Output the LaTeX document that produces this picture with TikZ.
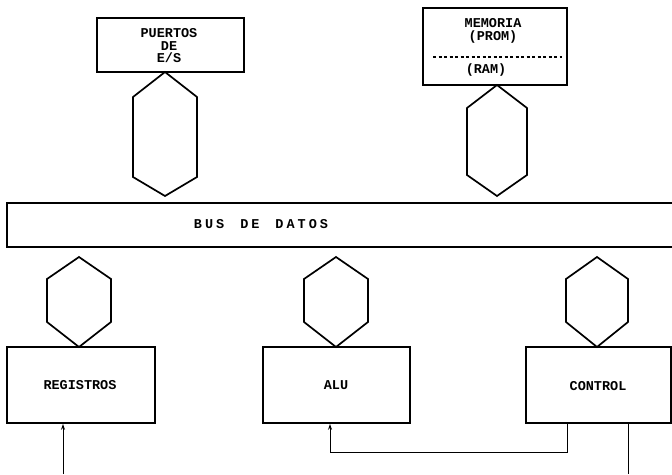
\documentclass[tikz,border=0pt]{standalone}
\usepackage{fontspec}
\setmonofont{Liberation Mono}
\usetikzlibrary{arrows.meta}
\begin{document}
\begin{tikzpicture}[x=1pt,y=-1pt,
  blk/.style={draw,line width=1.6pt,rectangle,inner sep=0pt},
  lbl/.style={font=\ttfamily\bfseries\fontsize{13.5}{12.5}\selectfont,align=center,inner sep=0pt},
  hexa/.style={draw,line width=1.7pt,line join=miter},
  wire/.style={line width=1pt},
  tip/.style={-{Stealth[length=6pt,width=4pt]}}]
\useasboundingbox (0,0) rectangle (672,474);

% units and peripheral blocks
\node[blk,minimum width=147pt,minimum height=54pt] (puertos) at (170.5,45) {};
\node[lbl] (puertosT) at (169,46) {PUERTOS\\DE\\E/S};

\node[blk,minimum width=144pt,minimum height=77pt] (memoria) at (495,46.5) {};
\node[lbl] (memoriaT) at (493,31) {MEMORIA\\(PROM)};
\node[lbl] (ramT) at (486,70) {(RAM)};
\coordinate (dashL) at (433,57);
\coordinate (dashR) at (562,57);
\draw[line width=1.1pt,dash pattern=on 3pt off 2.5pt] (dashL) -- (dashR);

% data bus (runs off the right edge)
\node[blk,minimum width=683pt,minimum height=44pt] (bus) at (348.5,225) {};
\newcommand\ls{\hspace{3pt}}
\newcommand\ws{\hspace{16pt}}
\node[lbl] (busT) at (261,224) {B\ls U\ls S\ws D\ls E\ws D\ls A\ls T\ls O\ls S};

% CPU blocks
\node[blk,minimum width=148pt,minimum height=76pt] (registros) at (81,385) {};
\node[lbl] (registrosT) at (80,385) {REGISTROS};
\node[blk,minimum width=147pt,minimum height=76pt] (alu) at (336.5,385) {};
\node[lbl] (aluT) at (336,385) {ALU};
\node[blk,minimum width=145pt,minimum height=76pt] (control) at (598.5,385) {};
\node[lbl] (controlT) at (598,386) {CONTROL};

% bus links (hexagons)
\newcommand\buslink[6]{% cx, ytop, halfwidth, yshoulder1, yshoulder2, ybottom
  \draw[hexa] (#1,#2) -- (#1+#3,#4) -- (#1+#3,#5) -- (#1,#6) -- (#1-#3,#5) -- (#1-#3,#4) -- cycle;}
\buslink{165}{72}{32}{97}{177}{196}
\buslink{497}{85}{30}{108}{175}{196}
\buslink{79}{257}{32}{279}{322}{347}
\buslink{336}{257}{32}{279}{322}{347}
\buslink{597}{257}{31}{279}{322}{347}

% control lines
\coordinate (ctlA) at (567,452);
\coordinate (aluIn) at (330,452);
\draw[wire,tip] (ctlA |- control.south) -- (ctlA) -- (aluIn) -- (aluIn |- alu.south);
\coordinate (regIn) at (63,474);
\draw[wire,tip] (regIn) -- (regIn |- registros.south);
\coordinate (ctlB) at (628,474);
\draw[wire] (ctlB |- control.south) -- (ctlB);
\end{tikzpicture}
\end{document}
